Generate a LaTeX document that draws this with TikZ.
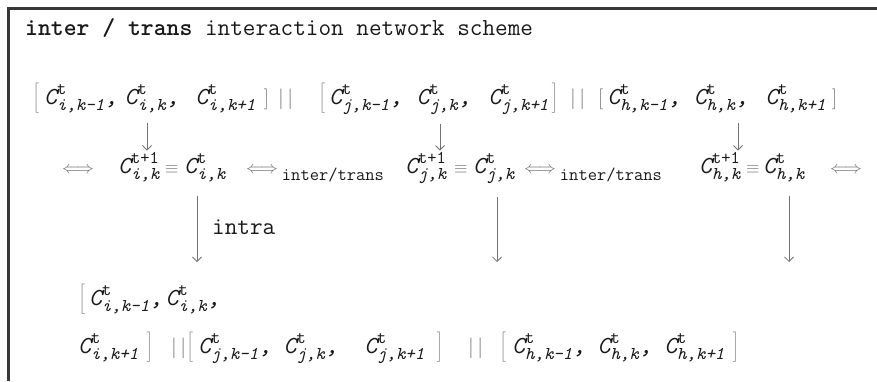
\documentclass[tikz,border=0pt]{standalone}
\usepackage{fontspec}
\usetikzlibrary{positioning}
\usetikzlibrary{arrows.meta}

\definecolor{ink}{gray}{0.1}
\definecolor{symb}{gray}{0.45}
\definecolor{rulec}{gray}{0.22}

\newcommand{\subfnt}{\fontsize{18}{18}\selectfont\ttfamily}
\newcommand{\cterm}[2]{$\mbox{\itshape C}^{\mbox{\subfnt #1}}_{\mbox{\subfnt\itshape #2}}$}
\newcommand{\cm}{\textit{,}}
\newcommand{\sbr}[1]{\textcolor{symb}{\fontsize{20}{20}\selectfont$#1$}}
\newcommand{\bbr}[1]{\textcolor{symb}{$\left#1\vrule height 19pt depth 9pt width 0pt\right.$}}
\newcommand{\bars}{\textcolor{symb}{\fontsize{21}{21}\selectfont$|\,|$}}
\newcommand{\dbl}{\textcolor{symb}{\fontsize{17}{17}\selectfont$\Longleftrightarrow$}}

\tikzset{
    txt/.style = {inner sep=0pt, anchor=base west, text=ink, font=\fontsize{24.5}{28}\selectfont\ttfamily},
    sym/.style = {txt, text=symb, font=\fontsize{16}{16}\selectfont},
    edgea/.style = {-{Straight Barb[length=4.5pt,width=9pt]}, line width=0.8pt, draw=symb},
    framel/.style = {line width=2.6pt, draw=rulec},
}

\begin{document}
\begin{tikzpicture}[x=1pt, y=-1pt]
  \useasboundingbox (0,0) rectangle (877,381);
  \draw[framel] (877,8.5) -- (8.5,8.5) -- (8.5,381);

  \node[txt] (title) at (25,35) {\textbf{inter / trans} interaction network scheme};

  % upper row: the three cell windows
  \node[txt] (g1) at (33,104) {\bbr{[}\hspace{4pt}\cterm{t}{i,k-1}\cm\hspace{7pt}\cterm{t}{i,k}\cm\hspace{16pt}\cterm{t}{i,k+1}\hspace{8pt}\sbr{]}};
  \node[txt] (s1) at (278,104) {\bars};
  \node[txt] (g2) at (319,104) {\bbr{[}\hspace{3pt}\cterm{t}{j,k-1}\cm\hspace{14pt}\cterm{t}{j,k}\cm\hspace{17pt}\cterm{t}{j,k+1}\hspace{3pt}\bbr{]}};
  \node[txt] (s2) at (570,104) {\bars};
  \node[txt] (g3) at (598,104) {\sbr{[}\hspace{4pt}\cterm{t}{h,k-1}\cm\hspace{13pt}\cterm{t}{h,k}\cm\hspace{17pt}\cterm{t}{h,k+1}\hspace{6pt}\sbr{]}};

  % middle row
  \node[txt] (lr1) at (62,173) {\dbl};
  \node[txt] (ct1) at (118,173) {\cterm{t+1}{i,k}};
  \node[sym] (eq1) at (165,173) {$\equiv$};
  \node[txt] (ck1) at (184,173) {\cterm{t}{i,k}};
  \node[txt] (lr2) at (246,173) {\dbl\,\raisebox{-7pt}{\subfnt inter/trans}};
  \node[txt] (ct2) at (405,173) {\cterm{t+1}{j,k}};
  \node[sym] (eq2) at (454,173) {$\equiv$};
  \node[txt] (ck2) at (473,173) {\cterm{t}{j,k}};
  \node[txt] (lr3) at (524,173) {\dbl\,\raisebox{-7pt}{\subfnt inter/trans}};
  \node[txt] (ct3) at (699,173) {\cterm{t+1}{h,k}};
  \node[sym] (eq3) at (746,173) {$\equiv$};
  \node[txt] (ck3) at (763,173) {\cterm{t}{h,k}};
  \node[txt] (lr4) at (830,173) {\dbl};

  \node[txt] (intra) at (212,234) {intra};

  % lower rows
  \node[txt] (lo1) at (79,305) {\bbr{[}\hspace{3pt}\cterm{t}{i,k-1}\cm\hspace{3pt}\cterm{t}{i,k}\cm};
  \node[txt] (lo2) at (78,353) {\cterm{t}{i,k+1}\hspace{8pt}\bbr{]}};
  \node[txt] (s3) at (171,353) {\bars};
  \node[txt] (lo3) at (187,353) {\bbr{[}\hspace{4pt}\cterm{t}{j,k-1}\cm\hspace{12pt}\cterm{t}{j,k}\cm\hspace{26pt}\cterm{t}{j,k+1}\hspace{12pt}\bbr{]}};
  \node[txt] (s4) at (468,353) {\bars};
  \node[txt] (lo4) at (500,353) {\bbr{[}\hspace{5pt}\cterm{t}{h,k-1}\cm\hspace{12pt}\cterm{t}{h,k}\cm\hspace{12pt}\cterm{t}{h,k+1}\hspace{8pt}\bbr{]}};

  \coordinate (bot) at (0,262);
  \foreach \n/\dx in {1/29,2/35,3/39}
    \draw[edgea, shorten <=10pt, shorten >=2pt] ([xshift=\dx pt]ct\n.north west |- g\n.south) -- ([xshift=\dx pt]ct\n.north west);
  \foreach \n/\dx in {1/13,2/24,3/26}
    \draw[edgea, shorten <=14pt] ([xshift=\dx pt]ck\n.south west) -- ([xshift=\dx pt]ck\n.south west |- bot);
\end{tikzpicture}
\end{document}
